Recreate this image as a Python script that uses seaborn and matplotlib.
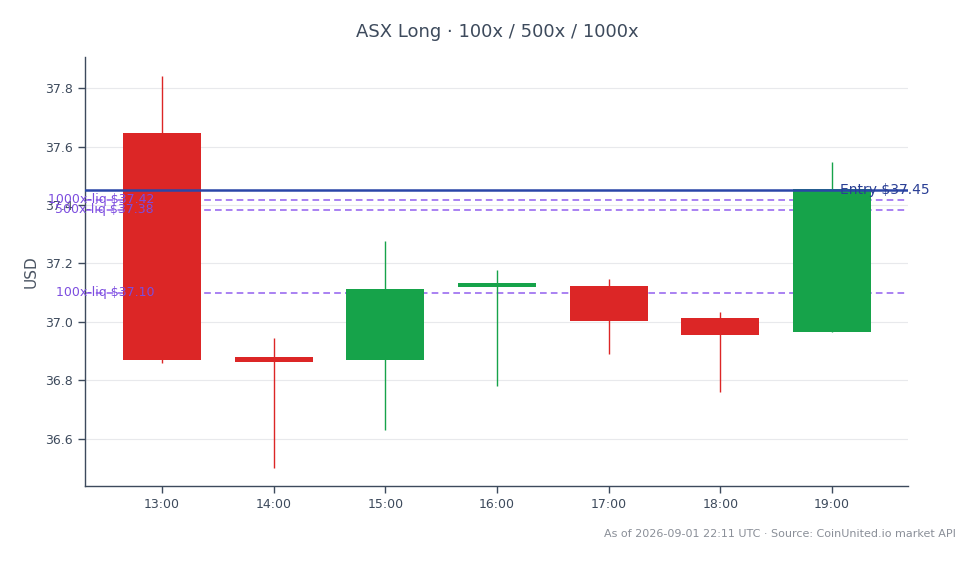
import matplotlib
matplotlib.use("Agg")
import matplotlib.pyplot as plt
import seaborn as sns
import numpy as np

hours = ["13:00", "14:00", "15:00", "16:00", "17:00", "18:00", "19:00"]
opens = [37.645, 36.880, 36.870, 37.120, 37.123, 37.014, 36.966]
closes = [36.870, 36.863, 37.113, 37.134, 37.003, 36.955, 37.455]
highs = [37.842, 36.945, 37.277, 37.178, 37.147, 37.034, 37.548]
lows = [36.860, 36.500, 36.630, 36.781, 36.890, 36.760, 36.966]

entry_price = 37.45
liq_labels = ["1000x-liq $37.42", "500x-liq $37.38", "100x-liq $37.10"]
liq_prices = [37.418, 37.384, 37.099]

sns.set_theme(style="white")
plt.rcParams['font.family'] = ['DejaVu Sans']

fig = plt.figure(figsize=(9.78, 5.64), dpi=100)
ax = fig.add_axes([0.0869, 0.1383, 0.8415, 0.7607])

x = np.arange(len(hours))
up = np.array(closes) >= np.array(opens)
colors = np.where(up, "#16a34a", "#dc2626")

ax.vlines(x, lows, highs, colors=colors, linewidth=1, zorder=3)
bottoms = np.minimum(opens, closes)
heights = np.abs(np.array(closes) - np.array(opens))
ax.bar(x, heights, bottom=bottoms, width=0.7, color=colors, edgecolor="none", linewidth=0, zorder=4)

for lbl, p in zip(liq_labels, liq_prices):
    ax.axhline(p, color="#9b6cf0", linestyle="--", linewidth=1.2, dashes=(4, 2.5), zorder=2)
    ax.text(0.084, p, lbl, transform=ax.get_yaxis_transform(), ha="right", va="center",
            color="#7c4ddf", fontsize=9, zorder=6)

ax.axhline(entry_price, color="#2a46a8", linewidth=1.8, zorder=5)
ax.text(0.917, entry_price, "Entry $37.45", transform=ax.get_yaxis_transform(), ha="left",
        va="center", color="#2a3f95", fontsize=10, zorder=6, clip_on=False)

ax.set_xlim(-0.69, 6.68)
ax.set_ylim(36.438, 37.907)
ax.set_xticks(x)
ax.set_xticklabels(hours)
ax.set_yticks([36.6, 36.8, 37.0, 37.2, 37.4, 37.6, 37.8])
ax.set_yticklabels(["36.6", "36.8", "37.0", "37.2", "37.4", "37.6", "37.8"])
ax.grid(True, axis="y", color="#e8e9ec", linewidth=0.8, zorder=0)
ax.set_axisbelow(True)

for side in ["top", "right"]:
    ax.spines[side].set_visible(False)
for side in ["left", "bottom"]:
    ax.spines[side].set_color("#3d4a5c")
    ax.spines[side].set_linewidth(1.0)
ax.tick_params(axis="both", colors="#3d4a5c", labelsize=9, length=5, width=1, direction="out",
               left=True, bottom=True)
ax.set_ylabel("USD", fontsize=11, color="#4b5563", labelpad=5)

fig.text(0.508, 0.944, "ASX Long · 100x / 500x / 1000x", ha="center", va="center",
         fontsize=13, color="#3d4a5c")
fig.text(0.977, 0.053, "As of 2026-09-01 22:11 UTC · Source: CoinUnited.io market API",
         ha="right", va="center", fontsize=8, color="#8a8f98")

fig.savefig("out.png", dpi=100)
